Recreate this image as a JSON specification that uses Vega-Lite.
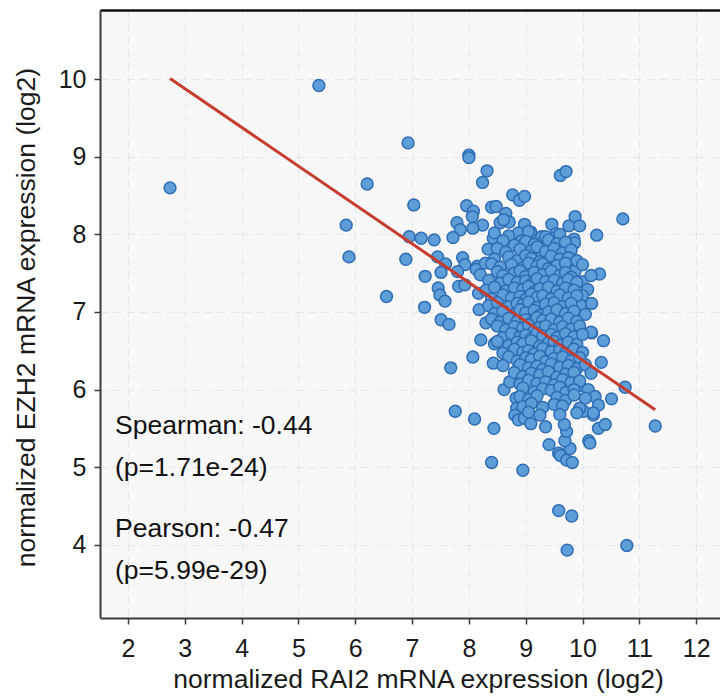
{
  "$schema": "https://vega.github.io/schema/vega-lite/v6.json",
  "width": 620,
  "height": 608,
  "autosize": {"type": "none"},
  "padding": {"left": 100, "top": 10, "right": 0, "bottom": 79},
  "background": "white",
  "config": {
    "view": {"fill": "#f7f7f7", "stroke": null},
    "axis": {
      "labelFont": "Liberation Sans",
      "labelFontSize": 25,
      "labelColor": "#1a1a1a",
      "titleFont": "Liberation Sans",
      "titleFontSize": 26.5,
      "titleFontWeight": "normal",
      "titleColor": "#1a1a1a",
      "domainColor": "#3a3a3a",
      "domainWidth": 2,
      "tickColor": "#3a3a3a",
      "tickWidth": 1.5,
      "tickSize": 6,
      "gridColor": "#e4e6ee",
      "gridDash": [8, 5],
      "gridWidth": 1
    }
  },
  "datasets": {
    "pts": [
      {"x":2.74,"y":8.60},{"x":5.36,"y":9.92},{"x":5.84,"y":8.12},{"x":5.89,"y":7.71},{"x":6.93,"y":9.18},
      {"x":8.00,"y":9.02},{"x":8.00,"y":8.99},{"x":8.32,"y":8.82},{"x":8.24,"y":8.67},{"x":6.21,"y":8.65},
      {"x":7.03,"y":8.38},{"x":9.61,"y":8.76},{"x":9.71,"y":8.81},{"x":8.77,"y":8.51},{"x":8.89,"y":8.44},
      {"x":8.98,"y":8.49},{"x":10.71,"y":8.20},{"x":7.96,"y":8.37},{"x":8.08,"y":8.30},{"x":8.06,"y":8.23},
      {"x":8.40,"y":8.35},{"x":8.48,"y":8.36},{"x":8.65,"y":8.27},{"x":8.55,"y":8.15},{"x":8.71,"y":8.16},
      {"x":8.61,"y":8.19},{"x":7.79,"y":8.15},{"x":7.85,"y":8.06},{"x":7.72,"y":7.96},{"x":8.24,"y":8.12},
      {"x":8.07,"y":8.08},{"x":8.98,"y":8.13},{"x":9.09,"y":8.03},{"x":8.87,"y":8.02},{"x":8.93,"y":7.92},
      {"x":9.46,"y":8.13},{"x":9.53,"y":8.01},{"x":9.49,"y":7.95},{"x":9.76,"y":8.11},{"x":9.87,"y":8.23},
      {"x":9.95,"y":8.11},{"x":10.25,"y":7.99},{"x":9.85,"y":7.94},{"x":9.86,"y":7.89},{"x":6.95,"y":7.97},
      {"x":7.16,"y":7.95},{"x":7.39,"y":7.93},{"x":8.43,"y":7.95},{"x":8.34,"y":7.81},{"x":9.28,"y":7.97},
      {"x":9.28,"y":7.88},{"x":9.25,"y":7.74},{"x":9.43,"y":7.77},{"x":9.43,"y":7.67},{"x":6.89,"y":7.68},
      {"x":7.45,"y":7.71},{"x":7.59,"y":7.62},{"x":7.51,"y":7.51},{"x":7.89,"y":7.70},{"x":7.93,"y":7.61},
      {"x":7.80,"y":7.52},{"x":8.15,"y":7.59},{"x":8.13,"y":7.55},{"x":8.29,"y":7.63},{"x":7.23,"y":7.46},
      {"x":6.55,"y":7.20},{"x":7.46,"y":7.31},{"x":7.49,"y":7.22},{"x":7.58,"y":7.14},{"x":7.22,"y":7.06},
      {"x":7.51,"y":6.90},{"x":7.65,"y":6.84},{"x":7.82,"y":7.33},{"x":7.93,"y":7.35},{"x":8.17,"y":7.24},
      {"x":10.30,"y":7.49},{"x":9.99,"y":7.39},{"x":10.09,"y":7.29},{"x":10.00,"y":7.21},{"x":10.16,"y":7.11},
      {"x":9.96,"y":7.09},{"x":9.74,"y":7.59},{"x":9.87,"y":7.53},{"x":10.16,"y":6.73},{"x":10.37,"y":6.63},
      {"x":8.18,"y":7.03},{"x":8.21,"y":6.64},{"x":8.30,"y":6.86},{"x":8.45,"y":6.59},{"x":8.07,"y":6.42},
      {"x":7.68,"y":6.28},{"x":8.43,"y":6.34},{"x":7.76,"y":5.72},{"x":8.10,"y":5.62},{"x":8.62,"y":6.00},
      {"x":8.72,"y":6.10},{"x":8.83,"y":5.89},{"x":8.84,"y":5.76},{"x":8.81,"y":5.67},{"x":8.44,"y":5.50},
      {"x":8.40,"y":5.06},{"x":8.95,"y":4.96},{"x":8.87,"y":5.61},{"x":8.98,"y":5.63},{"x":9.09,"y":5.56},
      {"x":9.35,"y":5.52},{"x":9.41,"y":5.29},{"x":9.58,"y":5.18},{"x":9.61,"y":5.15},{"x":9.72,"y":5.09},
      {"x":9.82,"y":5.06},{"x":9.78,"y":5.24},{"x":9.69,"y":5.34},{"x":9.72,"y":5.46},{"x":9.68,"y":5.55},
      {"x":10.11,"y":5.34},{"x":10.13,"y":5.31},{"x":10.28,"y":5.50},{"x":10.40,"y":5.55},{"x":10.19,"y":5.67},
      {"x":10.02,"y":5.72},{"x":11.28,"y":5.53},{"x":9.58,"y":4.44},{"x":9.81,"y":4.37},{"x":9.73,"y":3.93},
      {"x":10.78,"y":3.99},{"x":10.15,"y":6.74},{"x":10.33,"y":6.35},{"x":10.75,"y":6.03},{"x":10.51,"y":5.88},
      {"x":9.96,"y":6.05},{"x":10.10,"y":6.00},{"x":10.22,"y":5.91},{"x":10.28,"y":5.80},{"x":10.19,"y":5.70},
      {"x":8.45,"y":8.02},{"x":8.7,"y":7.98},{"x":9.05,"y":8.04},{"x":9.35,"y":7.97},{"x":9.6,"y":8.0},
      {"x":8.6,"y":7.92},{"x":8.8,"y":7.86},{"x":9.0,"y":7.91},{"x":9.15,"y":7.87},{"x":9.4,"y":7.93},{"x":9.55,"y":7.88},{"x":9.7,"y":7.9},
      {"x":8.5,"y":7.82},{"x":8.65,"y":7.77},{"x":8.9,"y":7.81},{"x":9.1,"y":7.79},{"x":9.2,"y":7.84},{"x":9.35,"y":7.78},{"x":9.5,"y":7.82},{"x":9.65,"y":7.76},{"x":9.8,"y":7.8},
      {"x":8.45,"y":7.68},{"x":8.7,"y":7.71},{"x":8.85,"y":7.66},{"x":9.0,"y":7.73},{"x":9.1,"y":7.69},{"x":9.25,"y":7.65},{"x":9.45,"y":7.72},{"x":9.6,"y":7.68},{"x":9.75,"y":7.7},{"x":9.9,"y":7.66},
      {"x":8.4,"y":7.62},{"x":8.55,"y":7.58},{"x":8.75,"y":7.61},{"x":8.95,"y":7.57},{"x":9.05,"y":7.63},{"x":9.2,"y":7.59},{"x":9.3,"y":7.62},{"x":9.4,"y":7.56},{"x":9.55,"y":7.6},{"x":9.7,"y":7.63},{"x":10.0,"y":7.61},
      {"x":8.2,"y":7.48},{"x":8.5,"y":7.52},{"x":8.6,"y":7.47},{"x":8.8,"y":7.5},{"x":8.9,"y":7.53},{"x":9.0,"y":7.46},{"x":9.15,"y":7.51},{"x":9.3,"y":7.48},{"x":9.45,"y":7.53},{"x":9.6,"y":7.47},{"x":9.7,"y":7.51},{"x":9.8,"y":7.45},{"x":10.15,"y":7.47},
      {"x":8.35,"y":7.41},{"x":8.55,"y":7.37},{"x":8.7,"y":7.42},{"x":8.85,"y":7.38},{"x":9.0,"y":7.4},{"x":9.1,"y":7.36},{"x":9.2,"y":7.43},{"x":9.35,"y":7.39},{"x":9.5,"y":7.41},{"x":9.65,"y":7.37},{"x":9.75,"y":7.42},{"x":9.9,"y":7.38},
      {"x":8.3,"y":7.28},{"x":8.45,"y":7.32},{"x":8.65,"y":7.27},{"x":8.8,"y":7.31},{"x":8.95,"y":7.29},{"x":9.05,"y":7.33},{"x":9.15,"y":7.26},{"x":9.25,"y":7.3},{"x":9.4,"y":7.32},{"x":9.55,"y":7.27},{"x":9.7,"y":7.31},{"x":9.85,"y":7.28},
      {"x":8.4,"y":7.17},{"x":8.6,"y":7.22},{"x":8.75,"y":7.18},{"x":8.9,"y":7.2},{"x":9.0,"y":7.16},{"x":9.1,"y":7.23},{"x":9.2,"y":7.19},{"x":9.3,"y":7.21},{"x":9.45,"y":7.17},{"x":9.6,"y":7.22},{"x":9.75,"y":7.18},{"x":9.9,"y":7.21},
      {"x":8.35,"y":7.08},{"x":8.5,"y":7.12},{"x":8.7,"y":7.07},{"x":8.85,"y":7.11},{"x":8.95,"y":7.09},{"x":9.05,"y":7.13},{"x":9.2,"y":7.06},{"x":9.35,"y":7.1},{"x":9.5,"y":7.12},{"x":9.65,"y":7.07},{"x":9.8,"y":7.11},
      {"x":8.45,"y":6.98},{"x":8.6,"y":7.01},{"x":8.8,"y":6.97},{"x":8.9,"y":7.03},{"x":9.0,"y":6.99},{"x":9.15,"y":7.02},{"x":9.25,"y":6.96},{"x":9.4,"y":7.0},{"x":9.55,"y":7.03},{"x":9.7,"y":6.98},{"x":9.85,"y":7.01},{"x":10.05,"y":6.97},
      {"x":8.4,"y":6.91},{"x":8.55,"y":6.87},{"x":8.7,"y":6.92},{"x":8.85,"y":6.88},{"x":9.0,"y":6.9},{"x":9.1,"y":6.86},{"x":9.2,"y":6.93},{"x":9.3,"y":6.89},{"x":9.45,"y":6.91},{"x":9.6,"y":6.87},{"x":9.75,"y":6.92},{"x":9.9,"y":6.88},
      {"x":8.5,"y":6.82},{"x":8.65,"y":6.77},{"x":8.8,"y":6.81},{"x":8.95,"y":6.79},{"x":9.05,"y":6.83},{"x":9.15,"y":6.76},{"x":9.25,"y":6.8},{"x":9.35,"y":6.82},{"x":9.5,"y":6.77},{"x":9.65,"y":6.81},{"x":9.8,"y":6.78},{"x":9.95,"y":6.82},
      {"x":8.6,"y":6.67},{"x":8.75,"y":6.72},{"x":8.9,"y":6.68},{"x":9.0,"y":6.7},{"x":9.1,"y":6.66},{"x":9.2,"y":6.73},{"x":9.3,"y":6.69},{"x":9.45,"y":6.71},{"x":9.55,"y":6.67},{"x":9.7,"y":6.72},{"x":9.85,"y":6.68},{"x":10.0,"y":6.71},
      {"x":8.5,"y":6.62},{"x":8.7,"y":6.57},{"x":8.85,"y":6.61},{"x":8.95,"y":6.59},{"x":9.1,"y":6.63},{"x":9.25,"y":6.56},{"x":9.4,"y":6.6},{"x":9.5,"y":6.62},{"x":9.6,"y":6.57},{"x":9.75,"y":6.61},{"x":9.9,"y":6.58},
      {"x":8.6,"y":6.47},{"x":8.8,"y":6.52},{"x":8.95,"y":6.48},{"x":9.05,"y":6.5},{"x":9.15,"y":6.46},{"x":9.3,"y":6.53},{"x":9.45,"y":6.49},{"x":9.6,"y":6.51},{"x":9.7,"y":6.47},{"x":9.85,"y":6.52},{"x":10.0,"y":6.48},
      {"x":8.7,"y":6.42},{"x":8.85,"y":6.37},{"x":9.0,"y":6.41},{"x":9.1,"y":6.39},{"x":9.25,"y":6.43},{"x":9.35,"y":6.36},{"x":9.5,"y":6.4},{"x":9.65,"y":6.42},{"x":9.8,"y":6.37},{"x":9.95,"y":6.41},
      {"x":8.6,"y":6.31},{"x":8.9,"y":6.32},{"x":9.05,"y":6.28},{"x":9.2,"y":6.3},{"x":9.3,"y":6.26},{"x":9.45,"y":6.33},{"x":9.6,"y":6.29},{"x":9.75,"y":6.31},{"x":9.9,"y":6.27},{"x":10.05,"y":6.32},
      {"x":8.8,"y":6.22},{"x":8.95,"y":6.17},{"x":9.1,"y":6.21},{"x":9.25,"y":6.19},{"x":9.4,"y":6.23},{"x":9.55,"y":6.16},{"x":9.7,"y":6.2},{"x":9.85,"y":6.22},{"x":10.15,"y":6.21},
      {"x":8.9,"y":6.07},{"x":9.05,"y":6.12},{"x":9.2,"y":6.08},{"x":9.35,"y":6.1},{"x":9.5,"y":6.06},{"x":9.65,"y":6.13},{"x":9.8,"y":6.09},{"x":9.95,"y":6.11},
      {"x":8.95,"y":6.02},{"x":9.15,"y":5.97},{"x":9.3,"y":6.01},{"x":9.45,"y":5.99},{"x":9.6,"y":6.03},{"x":9.7,"y":5.96},{"x":9.85,"y":6.0},
      {"x":8.9,"y":5.91},{"x":9.05,"y":5.87},{"x":9.2,"y":5.92},{"x":9.55,"y":5.9},{"x":9.7,"y":5.86},{"x":9.85,"y":5.93},{"x":10.05,"y":5.89},
      {"x":8.95,"y":5.78},{"x":9.1,"y":5.82},{"x":9.3,"y":5.77},{"x":9.5,"y":5.81},{"x":9.65,"y":5.79},{"x":9.95,"y":5.76},
      {"x":9.05,"y":5.71},{"x":9.25,"y":5.67},{"x":9.6,"y":5.68},{"x":9.9,"y":5.7}
    ],
    "fit": [{"x": 2.74, "y": 10.01}, {"x": 11.28, "y": 5.74}],
    "one": [{"k": 1}]
  },
  "layer": [
    {
      "data": {"name": "pts"},
      "mark": {"type": "point", "filled": true, "shape": "circle", "size": 140, "fill": "#5e9ed8", "stroke": "#2e6db5", "strokeWidth": 1.5, "opacity": 1, "fillOpacity": 1},
      "encoding": {
        "x": {
          "field": "x", "type": "quantitative",
          "scale": {"domain": [1.507, 12.42], "nice": false, "zero": false},
          "axis": {"values": [2,3,4,5,6,7,8,9,10,11,12], "format": "d", "title": "normalized RAI2 mRNA expression (log2)", "labelPadding": 12, "titleX": 318, "titleY": 69, "titleBaseline": "alphabetic", "titleAlign": "center", "labelFlush": false}
        },
        "y": {
          "field": "y", "type": "quantitative",
          "scale": {"domain": [3.055, 10.893], "nice": false, "zero": false},
          "axis": {"values": [4,5,6,7,8,9,10], "format": "d", "title": "normalized EZH2 mRNA expression (log2)", "labelPadding": 8, "titleX": -66, "titleY": 307, "titleBaseline": "alphabetic", "titleAlign": "center", "titleAngle": -90, "labelFlush": false}
        }
      }
    },
    {
      "data": {"name": "fit"},
      "mark": {"type": "line", "color": "#c63d2d", "strokeWidth": 3},
      "encoding": {
        "x": {"field": "x", "type": "quantitative", "axis": {"orient": "top", "labels": false, "ticks": false, "grid": false, "title": null, "domainColor": "#111111", "domainWidth": 2.5}},
        "y": {"field": "y", "type": "quantitative"}
      }
    },
    {
      "data": {"name": "one"},
      "mark": {"type": "text", "text": ["Spearman: -0.44", "(p=1.71e-24)"], "align": "left", "baseline": "alphabetic", "fontSize": 26.5, "lineHeight": 42, "font": "Liberation Sans", "color": "#111111"},
      "encoding": {
        "x": {"datum": 1.771, "type": "quantitative", "axis": null},
        "y": {"datum": 5.429, "type": "quantitative"}
      }
    },
    {
      "data": {"name": "one"},
      "mark": {"type": "text", "text": ["Pearson: -0.47", "(p=5.99e-29)"], "align": "left", "baseline": "alphabetic", "fontSize": 26.5, "lineHeight": 42, "font": "Liberation Sans", "color": "#111111"},
      "encoding": {
        "x": {"datum": 1.771, "type": "quantitative", "axis": null},
        "y": {"datum": 4.102, "type": "quantitative"}
      }
    }
  ],
  "resolve": {"axis": {"x": "independent"}}
}
